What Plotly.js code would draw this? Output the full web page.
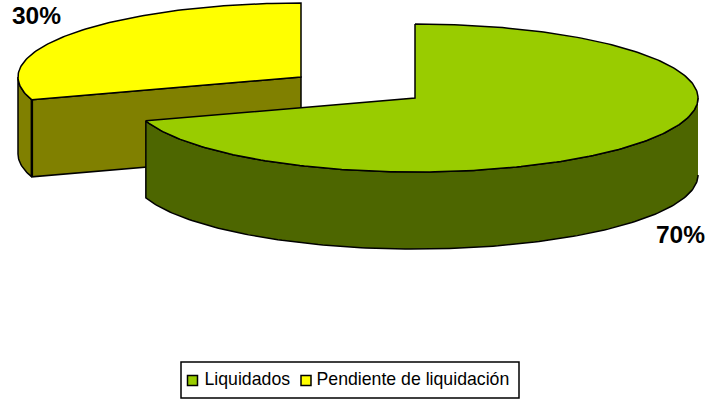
<!DOCTYPE html>
<html><head><meta charset="utf-8">
<script src="https://cdn.plot.ly/plotly-3.0.1.min.js"></script>
<style>html,body{margin:0;padding:0;background:#fff}#c{width:711px;height:404px}</style>
</head><body><div id="c"></div>
<script>
const categories = ["Liquidados", "Pendiente de liquidación"];
const values = [70, 30];
const topColors = ["#99CC00", "#FFFF00"];
const wallColors = ["#4D6600", "#808000"];

const total = values.reduce((a, b) => a + b, 0);
const RX = 283, RY = 74, DEPTH = 77;
const centers = [[415, 98], [301, 77]];
let acc = 0;
const spans = values.map(v => { const s = acc / total * 360; acc += v; return [s, acc / total * 360]; });

function pt(c, deg, dz) {
  const r = deg * Math.PI / 180;
  return [c[0] + RX * Math.sin(r), c[1] - RY * Math.cos(r) + (dz || 0)];
}
function arc(c, a, b, dz) {
  const out = [], n = Math.max(2, Math.ceil(Math.abs(b - a)));
  for (let i = 0; i <= n; i++) out.push(pt(c, a + (b - a) * i / n, dz));
  return out;
}
function poly(points, fill, width) {
  return {
    x: points.map(p => p[0]), y: points.map(p => p[1]), mode: "lines", fill: "toself",
    fillcolor: fill, line: { color: "#000", width: width || 1.5 }, hoverinfo: "skip", showlegend: false
  };
}
function wall(c, a, b) { return arc(c, a, b, 0).concat(arc(c, b, a, DEPTH)); }

const traces = [];
// second slice (drawn first, it sits behind)
(function () {
  const c = centers[1], [a, b] = spans[1];
  traces.push(poly(wall(c, a, 270), wallColors[1]));
  const p = pt(c, a);
  traces.push(poly([p, c, [c[0], c[1] + DEPTH], [p[0], p[1] + DEPTH], p], wallColors[1]));
  traces.push({ x: [p[0], p[0]], y: [p[1], p[1] + DEPTH], mode: "lines", line: { color: "#000", width: 2.5 }, hoverinfo: "skip", showlegend: false });
  traces.push(poly(arc(c, a, b).concat([c]).concat([pt(c, a)]), topColors[1]));
})();
// first slice
(function () {
  const c = centers[0], [a, b] = spans[0];
  traces.push(poly(wall(c, 90, b), wallColors[0]));
  traces.push(poly(arc(c, a, b).concat([c]).concat([pt(c, a)]), topColors[0]));
})();
// percentage labels
const labelPos = [[680.5, 237], [36.5, 18]];
const FONT = "Liberation Sans, Arial, sans-serif";
traces.push({
  x: labelPos.map(p => p[0]), y: labelPos.map(p => p[1]), mode: "text",
  text: values.map(v => "<b>" + Math.round(v / total * 100) + "%</b>"), textposition: "middle center",
  textfont: { family: FONT, size: 24.5, color: "#000" },
  hoverinfo: "skip", showlegend: false, cliponaxis: false
});
// legend, drawn to the reference's compact layout
const swatchX = [192.5, 306];
const legendTextX = [204.5, 316.5];
const legendY = 380.5;
traces.push({
  x: swatchX, y: swatchX.map(() => legendY), mode: "markers",
  marker: { symbol: "square", size: 10, color: topColors, line: { color: "#000", width: 1.5 } },
  hoverinfo: "skip", showlegend: false, cliponaxis: false
});
traces.push({
  x: legendTextX, y: legendTextX.map(() => legendY), mode: "text",
  text: categories, textposition: "middle right",
  textfont: { family: FONT, size: 17.7, color: "#000" },
  hoverinfo: "skip", showlegend: false, cliponaxis: false
});

Plotly.newPlot("c", traces, {
  width: 711, height: 404, margin: { l: 0, r: 0, t: 0, b: 0 },
  paper_bgcolor: "#fff", plot_bgcolor: "#fff", showlegend: false,
  xaxis: { range: [0, 711], visible: false, fixedrange: true },
  yaxis: { range: [404, 0], visible: false, fixedrange: true },
  shapes: [{ type: "rect", xref: "x", yref: "y", x0: 181, x1: 519, y0: 362, y1: 398, layer: "below",
    line: { color: "#000", width: 1.5 }, fillcolor: "#fff" }]
}, { displayModeBar: false, staticPlot: true });
</script></body></html>
